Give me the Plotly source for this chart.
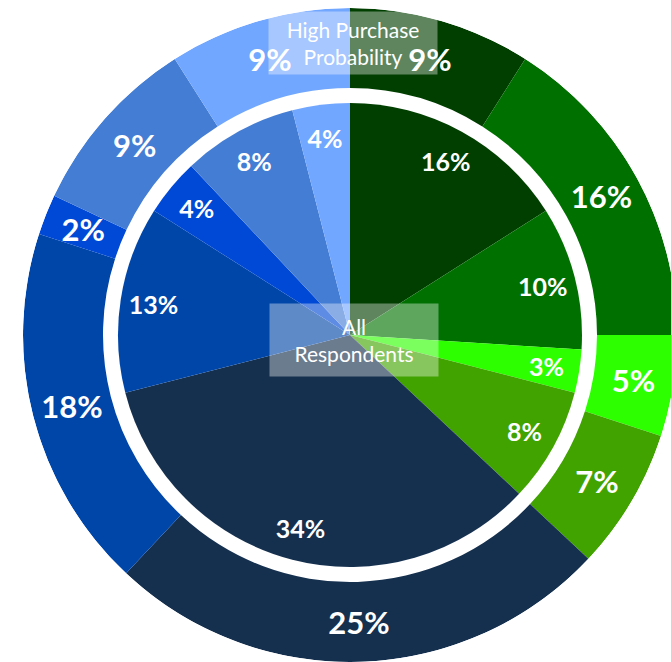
import plotly.graph_objects as go

segments = ["Dark Green", "Green", "Bright Green", "Medium Green", "Navy",
            "Blue", "Bright Blue", "Medium Blue", "Light Blue"]
all_respondents = [16, 10, 3, 8, 34, 13, 4, 8, 4]
high_purchase = [9, 16, 5, 7, 25, 18, 2, 9, 9]
colors = ["#003F00", "#007100", "#2EFF00", "#41A300", "#15304F",
          "#0046A9", "#0049D6", "#447DD4", "#72A7FF"]

W, H = 680, 672
cx, cy = 350, 335          # pie centre in pixels (from top-left)
R_OUT, R_HOLE, R_IN = 327, 247, 232
R_OUT_LABEL, R_IN_LABEL = 287, 199
TEXT_DROP = 4              # optical centring of the labels (px)


def slice_angles(values):
    total = sum(values)
    mids, widths, start = [], [], 0.0
    for v in values:
        w = v / total * 360.0
        mids.append(start + w / 2)
        widths.append(w)
        start += w
    return mids, widths


out_mid, out_w = slice_angles(high_purchase)
in_mid, in_w = slice_angles(all_respondents)

fig = go.Figure()
# inner pie: All Respondents
fig.add_trace(go.Barpolar(
    theta=in_mid, width=in_w, r=[R_IN] * len(all_respondents), base=0,
    marker=dict(color=colors, line=dict(width=0)),
    customdata=all_respondents, hovertext=segments,
    hovertemplate="%{hovertext}: %{customdata}%<extra>All Respondents</extra>",
    showlegend=False,
))
# outer ring: High Purchase Probability
fig.add_trace(go.Barpolar(
    theta=out_mid, width=out_w, r=[R_OUT - R_HOLE] * len(high_purchase), base=R_HOLE,
    marker=dict(color=colors, line=dict(width=0)),
    customdata=high_purchase, hovertext=segments,
    hovertemplate="%{hovertext}: %{customdata}%<extra>High Purchase Probability</extra>",
    showlegend=False,
))
# data labels
fig.add_trace(go.Scatterpolar(
    theta=in_mid, r=[R_IN_LABEL] * len(all_respondents), mode="text", subplot="polar2",
    text=[f"{v}%" for v in all_respondents], textposition="middle center",
    textfont=dict(family="Lato", size=25, color="white", weight="bold"),
    hoverinfo="skip", showlegend=False,
))
fig.add_trace(go.Scatterpolar(
    theta=out_mid, r=[R_OUT_LABEL] * len(high_purchase), mode="text", subplot="polar2",
    text=[f"{v}%" for v in high_purchase], textposition="middle center",
    textfont=dict(family="Lato", size=31, color="white", weight="bold"),
    hoverinfo="skip", showlegend=False,
))


def polar_cfg(dy):
    return dict(
        domain=dict(x=[(cx - R_OUT) / W, (cx + R_OUT) / W],
                    y=[(H - cy - dy - R_OUT) / H, (H - cy - dy + R_OUT) / H]),
        bgcolor="rgba(0,0,0,0)", bargap=0,
        radialaxis=dict(range=[0, R_OUT], visible=False, showgrid=False),
        angularaxis=dict(rotation=90, direction="clockwise", visible=False,
                         showgrid=False, showline=False),
    )


fig.update_layout(
    width=W, height=H, margin=dict(l=0, r=0, t=0, b=0),
    paper_bgcolor="white", plot_bgcolor="white",
    polar=polar_cfg(0), polar2=polar_cfg(TEXT_DROP),
)

fig.add_annotation(x=(cx + 3) / W, y=1 - 43 / H, xref="paper", yref="paper",
                   xanchor="center", yanchor="middle",
                   text="High Purchase<br>Probability", showarrow=False,
                   font=dict(family="Lato", size=21, color="white"),
                   bgcolor="rgba(255,255,255,0.37)", width=166, height=60)
fig.add_annotation(x=(cx + 4) / W, y=1 - 340 / H, xref="paper", yref="paper",
                   xanchor="center", yanchor="middle",
                   text="All<br>Respondents", showarrow=False,
                   font=dict(family="Lato", size=21, color="white"),
                   bgcolor="rgba(255,255,255,0.37)", width=166, height=70)

fig.write_html(
    "out.html",
    config={"displayModeBar": False},
    post_script="document.documentElement.style.overflow='hidden';"
                "document.body.style.margin='0';"
                "document.body.style.overflow='hidden';",
)
